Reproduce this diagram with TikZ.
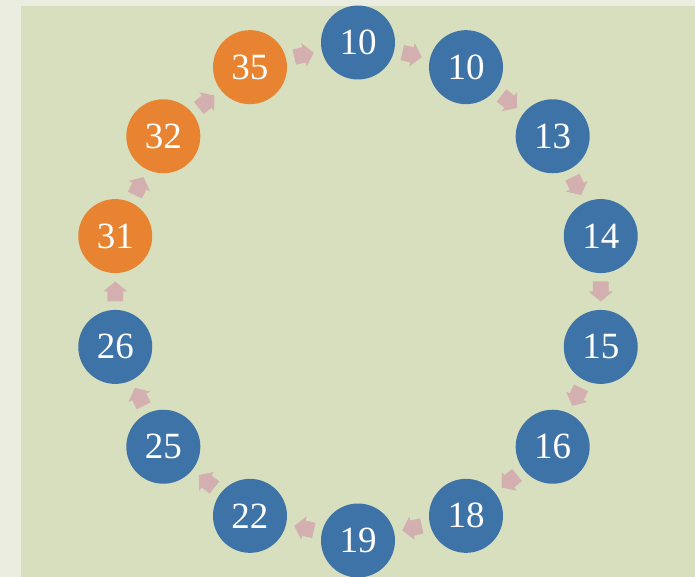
\documentclass[tikz,border=0pt]{standalone}
\usepackage{fontspec}
\setmainfont{Liberation Serif}
\usepackage{tikz}
\usetikzlibrary{calc}

\definecolor{stripbg}{RGB}{235,237,224}
\definecolor{panelbg}{RGB}{216,223,191}
\definecolor{ringblue}{RGB}{62,115,168}
\definecolor{ringorange}{RGB}{232,132,49}
\definecolor{arrowpink}{RGB}{212,175,175}

\begin{document}
\begin{tikzpicture}[
  x=1pt, y=1pt,
  ball/.style={circle, inner sep=0pt, minimum size=74pt, text=white,
    font=\fontsize{37}{37}\selectfont},
  blueball/.style={ball, fill=ringblue},
  orangeball/.style={ball, fill=ringorange},
  blockarrow/.pic={\fill[arrowpink] (-10,-7.8) -- (0,-7.8) -- (0,-12) -- (10,0)
    -- (0,12) -- (0,7.8) -- (-10,7.8) -- cycle;}
]
\useasboundingbox (-358,-285.5) rectangle (337,291.5);
\fill[stripbg] (-358,-285.5) rectangle (337,291.5);
\fill[panelbg] (-337,-285.5) rectangle (337,285.5);

% the ring, clockwise from the top
\node[blueball] (n0) at (90:249) {10};
\node[blueball] (n1) at (64.29:249) {10};
\node[blueball] (n2) at (38.57:249) {13};
\node[blueball] (n3) at (12.86:249) {14};
\node[blueball] (n4) at (-12.86:249) {15};
\node[blueball] (n5) at (-38.57:249) {16};
\node[blueball] (n6) at (-64.29:249) {18};
\node[blueball] (n7) at (-90:249) {19};
\node[blueball] (n8) at (-115.71:249) {22};
\node[blueball] (n9) at (-141.43:249) {25};
\node[blueball] (n10) at (-167.14:249) {26};
\node[orangeball] (n11) at (167.14:249) {31};
\node[orangeball] (n12) at (141.43:249) {32};
\node[orangeball] (n13) at (115.71:249) {35};

% block arrows between neighbours
\path ($(n0)!0.5!(n1)$) pic[rotate=-12.86] {blockarrow};
\path ($(n1)!0.5!(n2)$) pic[rotate=-38.57] {blockarrow};
\path ($(n2)!0.5!(n3)$) pic[rotate=-64.29] {blockarrow};
\path ($(n3)!0.5!(n4)$) pic[rotate=-90] {blockarrow};
\path ($(n4)!0.5!(n5)$) pic[rotate=-115.71] {blockarrow};
\path ($(n5)!0.5!(n6)$) pic[rotate=-141.43] {blockarrow};
\path ($(n6)!0.5!(n7)$) pic[rotate=-167.14] {blockarrow};
\path ($(n7)!0.5!(n8)$) pic[rotate=167.14] {blockarrow};
\path ($(n8)!0.5!(n9)$) pic[rotate=141.43] {blockarrow};
\path ($(n9)!0.5!(n10)$) pic[rotate=115.71] {blockarrow};
\path ($(n10)!0.5!(n11)$) pic[rotate=90] {blockarrow};
\path ($(n11)!0.5!(n12)$) pic[rotate=64.29] {blockarrow};
\path ($(n12)!0.5!(n13)$) pic[rotate=38.57] {blockarrow};
\path ($(n13)!0.5!(n0)$) pic[rotate=12.86] {blockarrow};
\end{tikzpicture}
\end{document}
